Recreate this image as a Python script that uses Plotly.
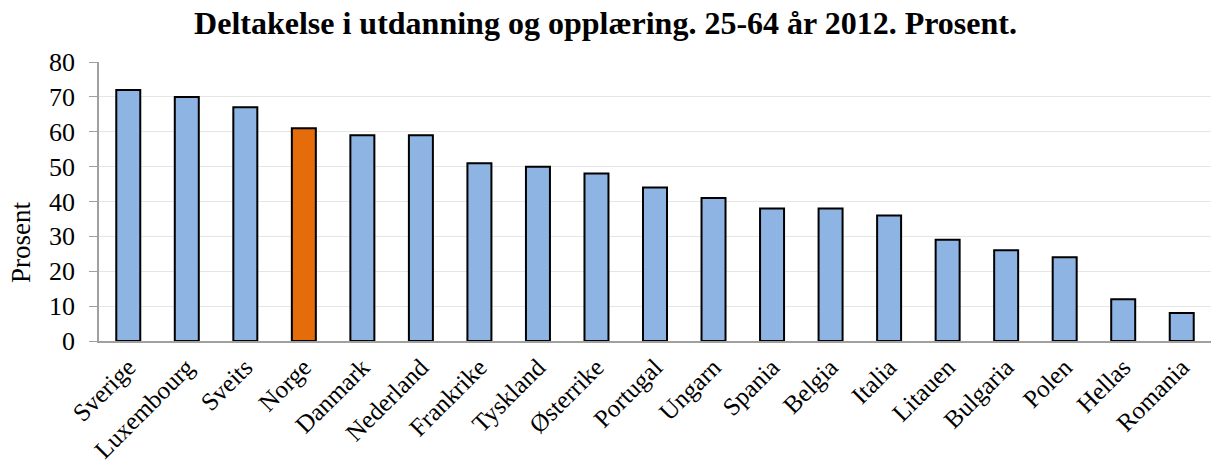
import plotly.graph_objects as go

countries = ["Sverige", "Luxembourg", "Sveits", "Norge", "Danmark", "Nederland",
             "Frankrike", "Tyskland", "Østerrike", "Portugal", "Ungarn", "Spania",
             "Belgia", "Italia", "Litauen", "Bulgaria", "Polen", "Hellas", "Romania"]
values = [72, 70, 67, 61, 59, 59, 51, 50, 48, 44, 41, 38, 38, 36, 29, 26, 24, 12, 8]
highlight = "Norge"
y_ticks = [0, 10, 20, 30, 40, 50, 60, 70, 80]

colors = ["#E46C0A" if c == highlight else "#8DB4E2" for c in countries]

fig = go.Figure(go.Bar(
    x=countries, y=values,
    marker=dict(color=colors, line=dict(color="black", width=2)),
))

fig.update_layout(
    width=1211, height=468,
    margin=dict(l=99, r=0, t=62, b=127, autoexpand=False),
    plot_bgcolor="white", paper_bgcolor="white",
    bargap=0.59,
    showlegend=False,
    font=dict(family="Liberation Serif", color="black"),
    title=dict(text="<b>Deltakelse i utdanning og opplæring. 25-64 år 2012. Prosent.</b>",
               x=0.5, xref="container", xanchor="center",
               y=1 - 23 / 468, yref="container", yanchor="middle",
               font=dict(size=32, family="Liberation Serif", color="black")),
    annotations=[dict(text="Prosent", textangle=-90, showarrow=False,
                      xref="paper", yref="paper", x=-78 / 1112, y=0.351,
                      xanchor="center", yanchor="middle",
                      font=dict(size=27, family="Liberation Serif", color="black"))],
)
fig.update_yaxes(range=[0, 80], tickvals=y_ticks, showgrid=True, gridcolor="#E6E6E6",
                 showline=True, linecolor="#A0A0A0", linewidth=1.5,
                 ticks="outside", ticklen=8, tickcolor="#A0A0A0",
                 tickfont=dict(size=26), zeroline=False, ticklabelstandoff=9)
fig.update_xaxes(showline=True, linecolor="#A0A0A0", linewidth=1.5,
                 tickangle=-45, tickfont=dict(size=25), ticks="", ticklabelstandoff=0)

fig.write_html("out.html", config={"displayModeBar": False},
               post_script="document.body.style.margin='0';document.body.style.overflow='hidden';")
